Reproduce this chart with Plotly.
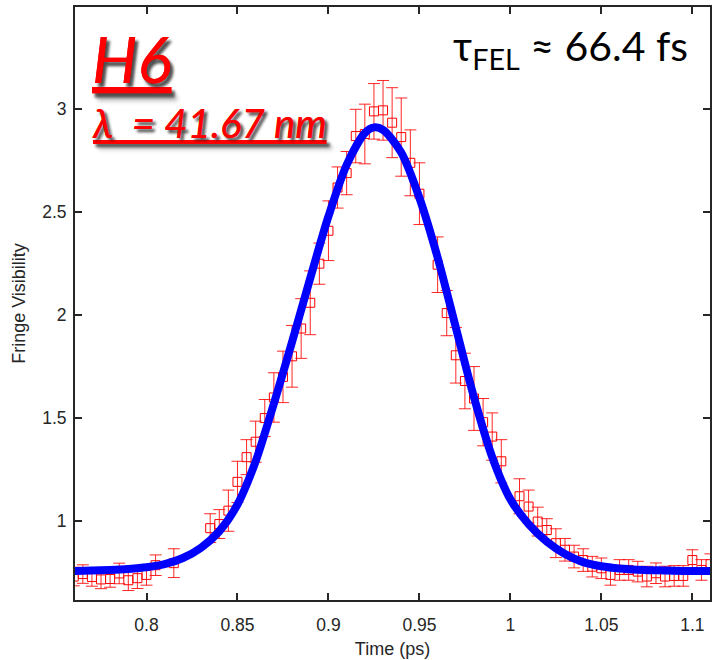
import plotly.graph_objects as go

time_ps = [0.760, 0.765, 0.770, 0.775, 0.780, 0.785, 0.790, 0.795, 0.800, 0.805,
           0.815, 0.835, 0.840, 0.845, 0.850, 0.855, 0.860, 0.865, 0.870, 0.875,
           0.880, 0.885, 0.890, 0.895, 0.900, 0.905, 0.910, 0.915, 0.920, 0.925,
           0.930, 0.935, 0.940, 0.945, 0.950, 0.960, 0.965, 0.970, 0.975, 0.980,
           0.985, 0.990, 0.995, 1.005, 1.010, 1.015, 1.020, 1.025, 1.030, 1.035,
           1.040, 1.045, 1.050, 1.055, 1.060, 1.065, 1.070, 1.075, 1.080, 1.085,
           1.090, 1.095, 1.100, 1.105, 1.110]
visibility = [0.730, 0.742, 0.728, 0.716, 0.718, 0.745, 0.712, 0.722, 0.738, 0.785,
              0.795, 0.965, 0.985, 1.050, 1.190, 1.310, 1.385, 1.500, 1.600, 1.700,
              1.800, 1.935, 2.060, 2.250, 2.410, 2.620, 2.690, 2.870, 2.880, 2.990,
              2.995, 2.935, 2.865, 2.740, 2.590, 2.245, 2.010, 1.805, 1.680, 1.595,
              1.480, 1.410, 1.290, 1.120, 1.070, 0.997, 0.956, 0.892, 0.860, 0.827,
              0.810, 0.778, 0.770, 0.738, 0.762, 0.762, 0.754, 0.730, 0.746, 0.730,
              0.733, 0.733, 0.810, 0.762, 0.790]
vis_err = [0.045, 0.045, 0.045, 0.045, 0.040, 0.050, 0.050, 0.050, 0.050, 0.050,
           0.070, 0.070, 0.070, 0.100, 0.100, 0.085, 0.100, 0.090, 0.120, 0.125,
           0.150, 0.145, 0.155, 0.100, 0.145, 0.100, 0.105, 0.130, 0.145, 0.135,
           0.145, 0.170, 0.190, 0.160, 0.150, 0.135, 0.110, 0.135, 0.135, 0.155,
           0.115, 0.115, 0.105, 0.085, 0.080, 0.070, 0.055, 0.070, 0.055, 0.055,
           0.055, 0.050, 0.050, 0.050, 0.050, 0.050, 0.050, 0.050, 0.050, 0.050,
           0.050, 0.050, 0.050, 0.050, 0.050]

# ---- fitted curve ----
fit_time = [0.760, 0.770, 0.780, 0.790, 0.800, 0.810, 0.820, 0.830, 0.840, 0.850,
            0.860, 0.870, 0.880, 0.890, 0.900, 0.910, 0.920, 0.925, 0.930,
            0.940, 0.950, 0.960, 0.970, 0.980, 0.990, 1.000,
            1.010, 1.020, 1.030, 1.040, 1.050, 1.060, 1.070, 1.080, 1.090, 1.100,
            1.110]
fit_vis = [0.757, 0.759, 0.762, 0.767, 0.775, 0.790, 0.820, 0.870, 0.950, 1.080,
           1.290, 1.570, 1.870, 2.180, 2.480, 2.730, 2.885, 2.912, 2.900,
           2.790, 2.570, 2.280, 1.940, 1.600, 1.310, 1.105,
           0.985, 0.900, 0.840, 0.800, 0.780, 0.769, 0.763, 0.760, 0.758, 0.757,
           0.757]

x_ticks = [0.8, 0.85, 0.9, 0.95, 1.0, 1.05, 1.1]
x_ticktext = ["0.8", "0.85", "0.9", "0.95", "1", "1.05", "1.1"]
y_ticks = [1, 1.5, 2, 2.5, 3]
y_ticktext = ["1", "1.5", "2", "2.5", "3"]

AX = "#262626"

fig = go.Figure()
fig.add_trace(go.Scatter(
    x=time_ps, y=visibility, mode="markers",
    marker=dict(symbol="square-open", size=9, color="rgb(255,0,0)",
                line=dict(width=1, color="rgb(255,0,0)")),
    error_y=dict(type="data", array=vis_err, visible=True,
                 color="rgba(255,0,0,0.85)", thickness=1, width=6),
    showlegend=False, cliponaxis=True,
))
fig.add_trace(go.Scatter(
    x=fit_time, y=fit_vis, mode="lines",
    line=dict(color="rgb(0,0,255)", width=8, shape="spline", smoothing=0.8),
    showlegend=False,
))

fig.update_layout(
    width=712, height=660,
    margin=dict(l=75, r=0, t=7, b=60),
    paper_bgcolor="white", plot_bgcolor="white",
    font=dict(family="Liberation Sans, Arial, sans-serif", color=AX, size=17),
    xaxis=dict(range=[0.7607, 1.1097], tickvals=x_ticks, ticktext=x_ticktext,
               ticks="inside", ticklen=7, tickwidth=1.5, tickcolor=AX,
               showline=True, linecolor=AX, linewidth=2, mirror="ticks",
               showgrid=False, zeroline=False, ticklabelstandoff=8,
               tickfont=dict(size=17.5, color=AX),
               title=dict(text="Time (ps)", font=dict(size=18, color=AX), standoff=8)),
    yaxis=dict(range=[0.616, 3.497], tickvals=y_ticks, ticktext=y_ticktext,
               ticks="inside", ticklen=7, tickwidth=1.5, tickcolor=AX,
               showline=True, linecolor=AX, linewidth=2, mirror="ticks",
               showgrid=False, zeroline=False, ticklabelstandoff=3,
               tickfont=dict(size=17.5, color=AX),
               title=dict(text="Fringe Visibility", font=dict(size=18, color=AX), standoff=12)),
)

fig.add_annotation(
    xref="paper", yref="paper", x=0.024, y=0.913, xanchor="left", yanchor="middle",
    text="H6", showarrow=False,
    font=dict(family="Lato, Liberation Sans, sans-serif", size=64, color="rgb(255,0,0)",
              style="italic", lineposition="under",
              shadow="3px 4px 3px rgba(0,0,0,0.45)"),
)
fig.add_annotation(
    xref="paper", yref="paper", x=0.024, y=0.805, xanchor="left", yanchor="middle",
    text="λ  = 41.67 nm", showarrow=False,
    font=dict(family="Lato, Liberation Sans, sans-serif", size=40, color="rgb(255,0,0)",
              style="italic", lineposition="under",
              shadow="3px 3px 3px rgba(0,0,0,0.45)"),
)
fig.add_annotation(
    xref="paper", yref="paper", x=0.592, y=0.93, xanchor="left", yanchor="middle",
    text="τ<sub>FEL</sub> ≈ 66.4 fs", showarrow=False,
    font=dict(family="Lato, Liberation Sans, sans-serif", size=41, color="black"),
)

fig.write_html("out.html")
